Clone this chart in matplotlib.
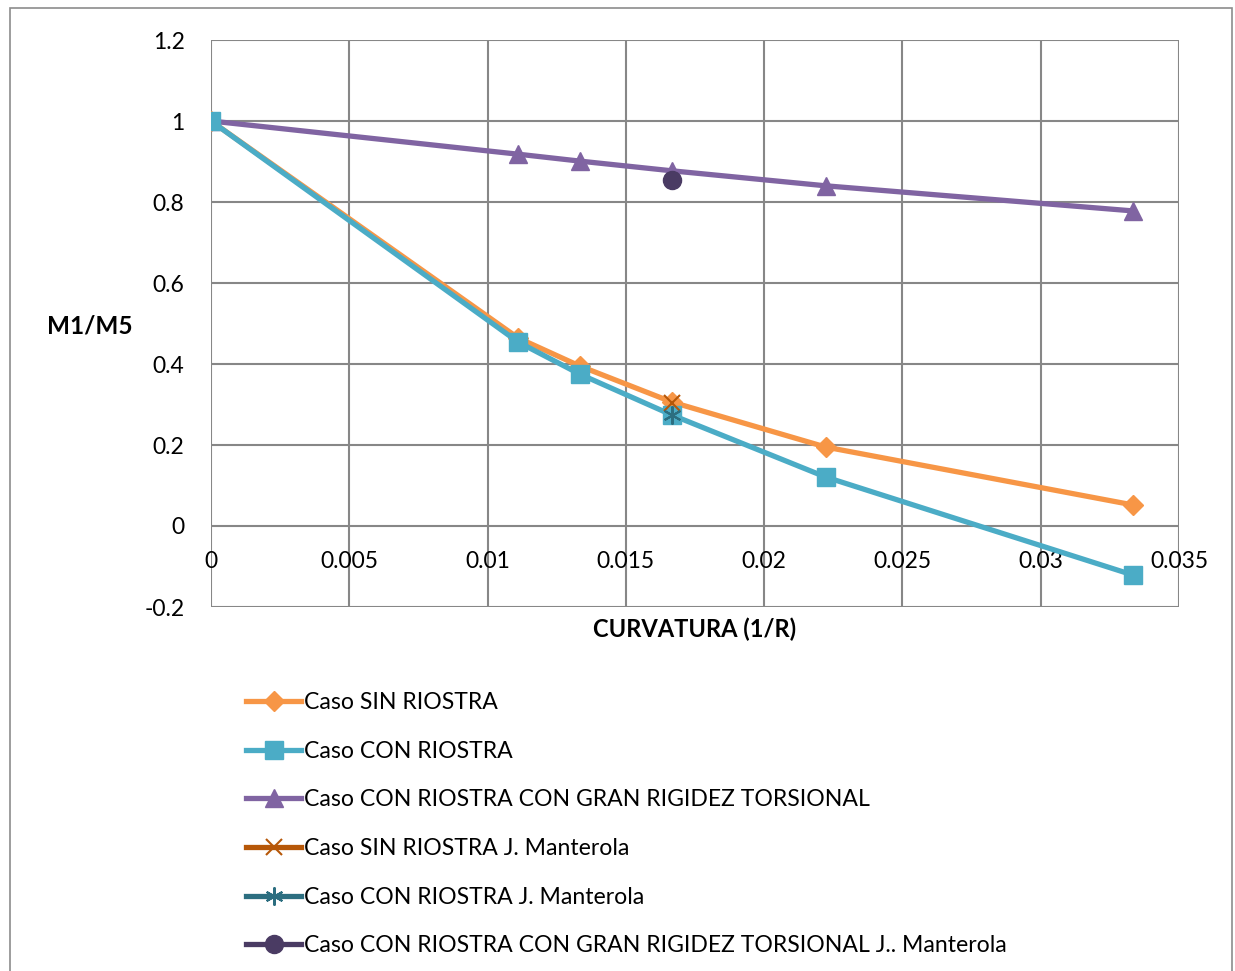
import matplotlib
matplotlib.use("Agg")
import matplotlib.pyplot as plt
from matplotlib.patches import Rectangle

plt.rcParams["font.family"] = ["Lato", "DejaVu Sans"]

# Curvature values (1/R)
curvatura = [0.0, 1 / 90, 1 / 75, 1 / 60, 1 / 45, 1 / 30]

# M1/M5 ratios per case
sin_riostra = [1.0, 0.464, 0.395, 0.306, 0.195, 0.052]
con_riostra = [1.0, 0.454, 0.375, 0.274, 0.121, -0.121]
con_rigidez = [1.0, 0.918, 0.901, 0.877, 0.840, 0.778]

# J. Manterola reference points
manterola_x = [1 / 60]
manterola_sin = [0.304]
manterola_con = [0.274]
manterola_rigidez = [0.854]

xticks = [0, 0.005, 0.01, 0.015, 0.02, 0.025, 0.03, 0.035]
xtick_labels = ["0", "0.005", "0.01", "0.015", "0.02", "0.025", "0.03", "0.035"]
yticks = [-0.2, 0, 0.2, 0.4, 0.6, 0.8, 1.0, 1.2]
ytick_labels = ["-0.2", "0", "0.2", "0.4", "0.6", "0.8", "1", "1.2"]

labels = [
    "Caso SIN RIOSTRA",
    "Caso CON RIOSTRA",
    "Caso CON RIOSTRA CON GRAN RIGIDEZ TORSIONAL",
    "Caso SIN RIOSTRA J. Manterola",
    "Caso CON RIOSTRA J. Manterola",
    "Caso CON RIOSTRA CON GRAN RIGIDEZ TORSIONAL J.. Manterola",
]

fig = plt.figure(figsize=(12.35, 9.71), dpi=100)
fig.patches.append(Rectangle((10 / 1235, -0.01), 1222 / 1235, 1 - 8 / 971 + 0.01,
                             transform=fig.transFigure, fill=False,
                             edgecolor="#8c8c8c", linewidth=1.2))

ax = fig.add_axes([211 / 1235, 1 - 607 / 971, 968 / 1235, 567 / 971])

lw = 3.8
h1, = ax.plot(curvatura, sin_riostra, color="#F79646", lw=lw, marker="D", ms=10,
              zorder=4)
h2, = ax.plot(curvatura, con_riostra, color="#4BACC6", lw=lw, marker="s", ms=13,
              zorder=5)
h3, = ax.plot(curvatura, con_rigidez, color="#8064A2", lw=lw, marker="^", ms=13,
              zorder=4)
h4, = ax.plot(manterola_x, manterola_sin, color="#B65708", lw=lw, marker="x", ms=12,
              mew=1.5, zorder=6)
h5, = ax.plot(manterola_x, manterola_con, color="#2C6E80", lw=lw, marker=(6, 2, 0),
              ms=13, mew=1.5, zorder=7)
h6, = ax.plot(manterola_x, manterola_rigidez, color="#4A3B63", lw=lw, marker="o",
              ms=13, zorder=6)

ax.set_xlim(0, 0.035)
ax.set_ylim(-0.2, 1.2)
ax.set_xticks(xticks)
ax.set_xticklabels(xtick_labels)
ax.set_yticks(yticks)
ax.set_yticklabels(ytick_labels)
ax.grid(True, color="#878787", lw=1.5)
ax.set_axisbelow(True)
for s in ["top", "right", "left"]:
    ax.spines[s].set_visible(False)
ax.spines["bottom"].set_position(("data", 0))
ax.spines["bottom"].set_visible(False)
ax.tick_params(axis="both", length=0, labelsize=16.5, colors="black")
ax.tick_params(axis="x", pad=18)
ax.tick_params(axis="y", pad=19)

fig.text(90 / 1235, 1 - 326 / 971, "M1/M5", fontsize=17.5, fontweight="bold",
         ha="center", va="center")
fig.text(695 / 1235, 1 - 629 / 971, "CURVATURA (1/R)", fontsize=17,
         fontweight="bold", ha="center", va="center")

fig.legend([h1, h2, h3, h4, h5, h6], labels, loc="upper left",
           bbox_to_anchor=(246 / 1235, 1 - 692 / 971), frameon=False,
           fontsize=16.6, handlelength=2.4, handletextpad=0.1, labelspacing=1.2,
           borderaxespad=0, borderpad=0)

fig.savefig("out.png", dpi=100)
